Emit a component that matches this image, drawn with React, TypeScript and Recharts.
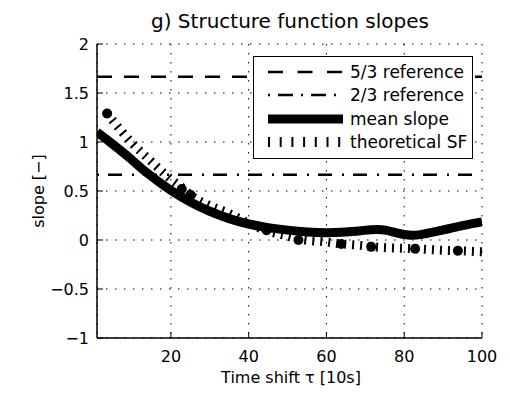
// @ts-nocheck
import React from "react";
import {
  ComposedChart,
  Line,
  Scatter,
  XAxis,
  YAxis,
  CartesianGrid,
  ReferenceLine,
} from "recharts";

// mean slope curve
const meanX = [1, 5, 10, 13.5, 20, 25, 30, 35, 40, 45, 50, 55, 60, 65, 70, 73, 75, 78, 81, 84, 88, 92, 96, 100];
const meanY = [1.1, 0.98, 0.82, 0.69, 0.5, 0.385, 0.29, 0.215, 0.16, 0.125, 0.1, 0.08, 0.07, 0.08, 0.1, 0.11, 0.105, 0.07, 0.045, 0.05, 0.085, 0.12, 0.155, 0.185];

// theoretical SF curve
const theoryX = [3.6, 5, 10, 15, 20, 23, 25, 30, 35, 40, 45, 50, 53, 60, 64, 70, 72, 80, 83, 90, 94, 100];
const theoryY = [1.29, 1.22, 0.99, 0.8, 0.62, 0.53, 0.46, 0.35, 0.27, 0.17, 0.09, 0.04, 0.01, -0.02, -0.04, -0.06, -0.07, -0.085, -0.09, -0.105, -0.11, -0.12];

// markers on the theoretical curve
const dotX = [3.6, 22.8, 25.1, 44.6, 52.8, 63.8, 71.5, 82.8, 93.8];
const dotY = [1.29, 0.52, 0.46, 0.1, 0.0, -0.04, -0.07, -0.09, -0.11];

const xTicks = [20, 40, 60, 80, 100];
const yTicks = [-1, -0.5, 0, 0.5, 1, 1.5, 2];
const refFiveThirds = 5 / 3;
const refTwoThirds = 2 / 3;

const meanData = meanX.map((x, i) => ({ x, y: meanY[i] }));
const theoryData = theoryX.map((x, i) => ({ x, y: theoryY[i] }));
const dotData = dotX.map((x, i) => ({ x, y: dotY[i] }));

const FONT = "'DejaVu Sans', sans-serif";
const fmt = (v) => String(v).replace("-", "\u2212");

const LeftTick = ({ x, y, payload }) => (
  <g>
    <line x1={x + 8} x2={x + 14} y1={y} y2={y} stroke="#000" />
    <text x={x} y={y} dy={6} textAnchor="end" fontSize={16} fontFamily={FONT} fill="#000">
      {fmt(payload.value)}
    </text>
  </g>
);

const BottomTick = ({ x, y, payload }) => (
  <g>
    <line x1={x} x2={x} y1={y - 8} y2={y - 14} stroke="#000" />
    <text x={x} y={y} dy={16} textAnchor="middle" fontSize={16} fontFamily={FONT} fill="#000">
      {payload.value}
    </text>
  </g>
);

const RightTick = ({ x, y }) => <line x1={x} x2={x - 6} y1={y} y2={y} stroke="#000" />;
const TopTick = ({ x, y }) => <line x1={x} x2={x} y1={y} y2={y + 6} stroke="#000" />;

const Dot = ({ cx, cy }) => <circle cx={cx} cy={cy} r={5} fill="#000" />;

const Overlay = () => (
  <svg
    width={510}
    height={393}
    style={{ position: "absolute", left: 0, top: 0, pointerEvents: "none" }}
    fontFamily={FONT}
    fill="#000"
  >
    <text x={290} y={28} textAnchor="middle" fontSize={20} fill="#000">
      g) Structure function slopes
    </text>
    <text x={291} y={383} textAnchor="middle" fontSize={16} fill="#000">
      Time shift τ [10s]
    </text>
    <text x={44} y={191} textAnchor="middle" fontSize={16} fill="#000" transform="rotate(-90 44 191)">
      slope [−]
    </text>
    {/* legend */}
    <rect x={253.5} y={56.5} width={219} height={102} fill="#fff" stroke="#000" />
    <line x1={268} x2={343} y1={72} y2={72} stroke="#000" strokeWidth={2.5} strokeDasharray="15 14.5" />
    <text x={350} y={78} fontSize={17} fill="#000">5/3 reference</text>
    <line x1={268} x2={343} y1={95} y2={95} stroke="#000" strokeWidth={2.5} strokeDasharray="2 8 15 8" />
    <text x={350} y={101} fontSize={17} fill="#000">2/3 reference</text>
    <line x1={268} x2={343} y1={119} y2={119} stroke="#000" strokeWidth={9} />
    <text x={350} y={125} fontSize={17} fill="#000">mean slope</text>
    <line x1={268} x2={343} y1={142} y2={142} stroke="#000" strokeWidth={10} strokeDasharray="2 9.7" />
    <text x={350} y={148} fontSize={17} fill="#000">theoretical SF</text>
  </svg>
);

export default function App() {
  return (
    <div style={{ position: "absolute", left: 0, top: 0, width: 510, height: 393, background: "#fff" }}>
      <ComposedChart width={510} height={393} margin={{ top: 44, right: 28, bottom: 25, left: 37 }}>
        <CartesianGrid stroke="#000" strokeDasharray="1.5 7.5" />
        <XAxis
          type="number"
          dataKey="x"
          domain={[1, 100]}
          ticks={xTicks}
          allowDataOverflow
          height={30}
          tickSize={0}
          tickMargin={8}
          tickLine={false}
          axisLine={{ stroke: "#000", strokeWidth: 1.5 }}
          tick={BottomTick}
        />
        <XAxis
          xAxisId="top"
          orientation="top"
          type="number"
          domain={[1, 100]}
          ticks={xTicks}
          allowDataOverflow
          height={0}
          tickSize={0}
          tickMargin={0}
          tickLine={false}
          axisLine={{ stroke: "#000", strokeWidth: 1.5 }}
          tick={TopTick}
        />
        <YAxis
          type="number"
          domain={[-1, 2]}
          ticks={yTicks}
          allowDataOverflow
          width={60}
          tickSize={0}
          tickMargin={8}
          tickLine={false}
          axisLine={{ stroke: "#000", strokeWidth: 1.5 }}
          tick={LeftTick}
        />
        <YAxis
          yAxisId="right"
          orientation="right"
          type="number"
          domain={[-1, 2]}
          ticks={yTicks}
          allowDataOverflow
          width={0}
          tickSize={0}
          tickMargin={0}
          tickLine={false}
          axisLine={{ stroke: "#000", strokeWidth: 1.5 }}
          tick={RightTick}
        />
        <ReferenceLine y={refFiveThirds} stroke="#000" strokeWidth={2.5} strokeDasharray="15 12" />
        <ReferenceLine
          y={refTwoThirds}
          stroke="#000"
          strokeWidth={2.5}
          strokeDasharray="14 10 2 9"
          strokeDashoffset={24}
        />
        <Line
          data={theoryData}
          dataKey="y"
          type="monotone"
          stroke="#000"
          strokeWidth={9}
          strokeDasharray="2 6"
          dot={false}
          activeDot={false}
          isAnimationActive={false}
        />
        <Scatter data={dotData} dataKey="y" shape={Dot} isAnimationActive={false} />
        <Line
          data={meanData}
          dataKey="y"
          type="basis"
          stroke="#000"
          strokeWidth={9}
          dot={false}
          activeDot={false}
          isAnimationActive={false}
        />
      </ComposedChart>
      <Overlay />
    </div>
  );
}
